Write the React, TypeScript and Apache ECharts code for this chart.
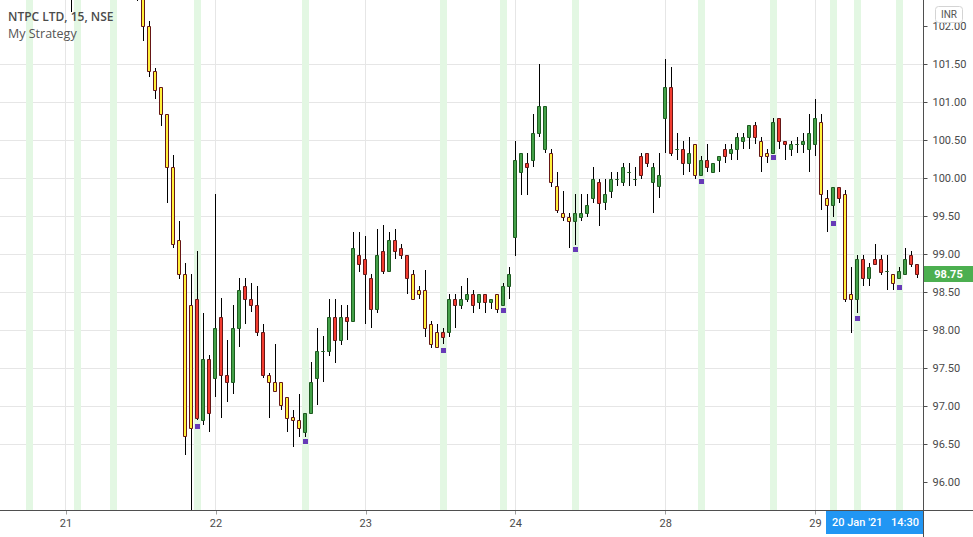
import React, { useEffect, useRef } from "react";
import * as echarts from "echarts";

// ---- time slots (15 min candles, NSE session 09:15 - 15:15) ----
const DAYS = ["20", "21", "22", "23", "24", "28", "29"];
const FIRST_SLOT = "20 12:45";
const LAST_SLOT = "29 13:45";
const DATA_START = "21 09:30";

function sessionTimes(): string[] {
  const out: string[] = [];
  for (let m = 9 * 60 + 15; m <= 15 * 60 + 15; m += 15) {
    const h = Math.floor(m / 60);
    const mm = m % 60;
    out.push(String(h).padStart(2, "0") + ":" + String(mm).padStart(2, "0"));
  }
  return out;
}
const ALL_SLOTS = DAYS.flatMap((d) => sessionTimes().map((t) => d + " " + t));
const CATEGORIES = ALL_SLOTS.slice(ALL_SLOTS.indexOf(FIRST_SLOT), ALL_SLOTS.indexOf(LAST_SLOT) + 1);

// ---- candles, starting at DATA_START ----
const N = null;
const OPEN = [
  102.6, N, N, N, N, N, N, N, N, N,
  N, 102.55, 102.45, 102.01, 101.41, 101.21, 100.85, 100.15, 99.19, 98.74,
  96.72, 98.42, 96.82, 97.62, 97.37, 98.18, 97.42, 97.32, 98.03, 98.58,
  98.42, 98.33, 97.98, 97.42, 97.32, 97.32, 97.12, 96.86, 96.82, 96.66,
  96.91, 97.37, 97.73, 97.73, 98.18, 97.87, 98.18, 98.12, 98.99, 98.94,
  98.69, 98.28, 99.04, 98.78, 99.19, 99.08, 98.99, 98.74, 98.53, 98.53,
  98.08, 97.98, 97.98, 97.98, 98.42, 98.33, 98.42, 98.48, 98.38, 98.48,
  98.38, 98.48, 98.33, 98.58, 99.23, 100.34, 100.15, 100.25, 100.6, 100.96,
  100.34, 99.9, 99.54, 99.49, 99.44, 99.49, 99.54, 99.74, 99.95, 99.69,
  99.84, 100.0, 99.95, 100.09, 100.0, 100.04, 100.34, 100.15, 99.9, 100.8,
  101.21, 100.39, 100.39, 100.2, 100.45, 100.04, 100.25, 100.09, 100.25, 100.39,
  100.34, 100.39, 100.5, 100.55, 100.7, 100.5, 100.34, 100.34, 100.8, 100.5,
  100.39, 100.45, 100.45, 100.39, 100.45, 100.75, 99.74, 99.65, 99.89, 99.79,
  98.48, 98.42, 98.94, 98.69, 98.94, 98.94, 98.78, 98.74, 98.69, 98.74,
  98.99, 98.88,
];
const CLOSE = [
  102.5, N, N, N, N, N, N, N, N, N,
  N, 102.45, 102.01, 101.41, 101.16, 100.85, 100.15, 99.14, 98.74, 96.61,
  98.33, 96.85, 97.62, 96.91, 98.03, 97.42, 97.32, 98.03, 98.53, 98.42,
  98.33, 97.98, 97.42, 97.32, 97.21, 97.02, 96.85, 96.82, 96.72, 96.91,
  97.32, 97.73, 97.73, 98.18, 97.87, 98.18, 98.12, 99.08, 98.88, 98.74,
  98.28, 98.99, 98.78, 99.19, 99.04, 98.99, 98.69, 98.42, 98.48, 98.03,
  97.82, 97.78, 97.92, 98.42, 98.33, 98.42, 98.48, 98.33, 98.48, 98.38,
  98.42, 98.28, 98.58, 98.74, 100.25, 100.09, 100.2, 100.6, 100.96, 100.39,
  99.95, 99.59, 99.49, 99.44, 99.54, 99.54, 99.65, 100.0, 99.68, 99.79,
  100.0, 100.0, 100.15, 100.09, 100.0, 100.3, 100.2, 99.95, 100.04, 101.21,
  100.34, 100.39, 100.2, 100.34, 100.04, 100.25, 100.15, 100.2, 100.3, 100.3,
  100.39, 100.55, 100.55, 100.7, 100.55, 100.3, 100.3, 100.75, 100.5, 100.45,
  100.45, 100.45, 100.5, 100.6, 100.8, 99.79, 99.65, 99.89, 99.74, 98.42,
  98.42, 98.94, 98.69, 98.83, 98.88, 98.77, 98.78, 98.63, 98.78, 98.94,
  98.88, 98.75,
];
const HIGH = [
  102.7, N, N, N, N, N, N, N, N, N,
  N, 102.7, 102.6, 102.07, 101.46, 101.21, 100.85, 100.31, 99.44, 98.89,
  98.74, 99.05, 98.23, 97.68, 99.79, 98.43, 97.88, 98.33, 98.69, 98.69,
  98.63, 98.58, 98.08, 97.44, 97.82, 97.32, 97.12, 96.96, 97.17, 96.92,
  97.58, 98.03, 97.93, 98.42, 98.42, 98.34, 98.34, 99.29, 99.29, 99.24,
  98.74, 99.34, 99.39, 99.29, 99.34, 99.14, 98.99, 98.79, 98.59, 98.79,
  98.13, 98.08, 98.03, 98.48, 98.48, 98.58, 98.69, 98.53, 98.48, 98.48,
  98.42, 98.48, 98.63, 98.84, 100.5, 100.34, 100.34, 100.85, 101.51, 100.96,
  100.39, 100.09, 99.84, 99.54, 99.79, 99.79, 99.79, 100.15, 100.0, 100.0,
  100.09, 100.09, 100.2, 100.2, 100.15, 100.34, 100.34, 100.2, 100.34, 101.57,
  101.47, 100.6, 100.5, 100.55, 100.45, 100.3, 100.45, 100.2, 100.3, 100.45,
  100.45, 100.6, 100.6, 100.7, 100.75, 100.55, 100.39, 100.8, 100.8, 100.5,
  100.5, 100.55, 100.6, 100.85, 101.05, 100.85, 99.85, 99.89, 99.89, 99.85,
  98.84, 98.99, 98.99, 98.89, 99.14, 98.99, 98.99, 98.74, 98.83, 99.08,
  99.05, 98.88,
];
const LOW = [
  102.19, N, N, N, N, N, N, N, N, N,
  N, 102.33, 101.81, 101.34, 101.04, 100.69, 99.68, 99.08, 98.68, 96.36,
  95.63, 96.82, 96.76, 96.66, 97.12, 96.85, 97.06, 97.16, 97.78, 98.08,
  98.24, 97.93, 97.37, 96.85, 97.19, 96.96, 96.66, 96.47, 96.6, 96.6,
  96.91, 97.02, 97.32, 97.67, 97.57, 97.81, 97.87, 98.12, 98.77, 98.08,
  98.03, 98.23, 98.74, 98.78, 98.94, 98.94, 98.48, 98.42, 98.42, 97.92,
  97.77, 97.78, 97.82, 97.92, 98.03, 98.28, 98.38, 98.23, 98.28, 98.23,
  98.28, 98.23, 98.33, 98.42, 98.98, 99.78, 99.78, 100.15, 100.55, 100.34,
  99.89, 99.54, 99.44, 99.08, 99.13, 99.44, 99.49, 99.68, 99.38, 99.59,
  99.74, 99.9, 99.9, 99.9, 99.9, 100.0, 100.15, 99.54, 99.74, 100.34,
  100.3, 100.25, 100.04, 100.09, 100.0, 100.04, 100.09, 100.09, 100.09, 100.2,
  100.25, 100.25, 100.39, 100.39, 100.45, 100.09, 100.2, 100.34, 100.39, 100.25,
  100.3, 100.34, 100.34, 100.09, 100.3, 99.59, 99.29, 99.49, 99.68, 98.38,
  97.97, 98.23, 98.58, 98.58, 98.88, 98.73, 98.53, 98.53, 98.69, 98.74,
  98.83, 98.69,
];
// g = green, r = red, y = yellow (strategy colouring), . = no candle shown
const KIND = (
  "y........." +
  ".yyyyyyyyy" +
  "yrgrgrrggr" +
  "rrryyyyyyg" +
  "ggggrgrgrr" +
  "rgrgrrryyy" +
  "yyrgrggrgr" +
  "gyggggrggg" +
  "ryyyyggggr".slice(1) + "g" +
  "gggggrrggg" +
  "rgrgygrggr" +
  "ggggryygrr" +
  "gggggyygry" +
  "ygrgrrgygg" +
  "rr"
).split("");

// strategy signal columns and markers
const BAND_SLOTS = [
  "20 14:00", "21 09:45", "21 11:15", "21 14:45", "22 13:00", "23 12:30", "23 15:00",
  "24 11:45", "28 10:45", "28 13:45", "29 10:00", "29 11:00", "29 12:45",
];
const MARK_SLOTS = [
  "21 14:45", "22 13:00", "23 12:30", "23 15:00", "24 11:45",
  "28 10:45", "28 13:45", "29 10:00", "29 11:00", "29 12:45",
];
const MARK_PRICES = [96.75, 96.54, 97.75, 98.27, 99.07, 99.97, 100.28, 99.42, 98.16, 98.57];

const Y_TICKS = [96, 96.5, 97, 97.5, 98, 98.5, 99, 99.5, 100, 100.5, 101, 101.5, 102];
const Y_MIN = 95.5;
const Y_MAX = 102.3487; // price at the top edge of the pane

const COLORS: Record<string, [string, string]> = {
  g: ["#43a047", "#1d5a20"],
  r: ["#f23c2f", "#651616"],
  y: ["#fff03a", "#651616"],
};
const BAND_COLOR = "#e3f7e3";
const GRID_COLOR = "#e6e6e6";
const AXIS_COLOR = "#4f4f4f";
const TEXT_COLOR = "#4a4a4a";
const X_OFFSET = -10;

const dayStart = (_i: number, v: string) => v.endsWith("09:15");

export default function App() {
  const ref = useRef<HTMLDivElement>(null);
  useEffect(() => {
    if (!ref.current) return;
    const chart = echarts.init(ref.current, null, { renderer: "svg" });
    const k0 = CATEGORIES.indexOf(DATA_START);
    const candleData: number[][] = [];
    OPEN.forEach((o, j) => {
      if (o == null) return;
      candleData.push([k0 + j, o, CLOSE[j] as number, LOW[j] as number, HIGH[j] as number, j]);
    });
    const lastIdx = k0 + OPEN.length - 1;
    const lastClose = CLOSE[CLOSE.length - 1] as number;
    const dayStarts = CATEGORIES.map((c, i) => (c.endsWith("09:15") ? i : -1)).filter((i) => i >= 0);

    const bottomOf = (cs: any) => cs.y + cs.height + X_OFFSET;

    chart.setOption({
      animation: false,
      grid: { left: 0, right: 49.5, top: 0, bottom: 16.5, containLabel: false },
      xAxis: {
        type: "category",
        data: CATEGORIES,
        boundaryGap: false,
        offset: X_OFFSET,
        axisLine: { show: false },
        axisTick: { show: true, interval: dayStart, length: 4, lineStyle: { color: "#a0a0a0" } },
        axisLabel: {
          interval: dayStart,
          formatter: (v: string) => v.split(" ")[0],
          color: TEXT_COLOR,
          fontFamily: "Roboto",
          fontSize: 11,
          margin: 7,
        },
        splitLine: { show: false },
      },
      yAxis: {
        type: "value",
        position: "right",
        min: Y_MIN,
        max: Y_MAX,
        interval: 0.5,
        axisLine: { show: false },
        axisTick: { show: true, length: 4, lineStyle: { color: AXIS_COLOR }, customValues: Y_TICKS },
        axisLabel: {
          customValues: Y_TICKS,
          margin: 9,
          color: TEXT_COLOR,
          fontFamily: "Roboto",
          fontSize: 11,
          formatter: (v: number) => v.toFixed(2),
        },
        splitLine: { show: true, showMinLine: false, showMaxLine: false, lineStyle: { color: GRID_COLOR } },
      },
      series: [
        {
          type: "custom",
          name: "bands",
          z: 1,
          silent: true,
          data: BAND_SLOTS.map((s) => [CATEGORIES.indexOf(s), 100]),
          renderItem: (params: any, api: any) => {
            const p = api.coord([api.value(0), api.value(1)]);
            const cs = params.coordSys;
            const x = Math.floor(p[0]);
            return {
              type: "rect",
              shape: { x: x - 3, y: cs.y, width: 7, height: bottomOf(cs) - cs.y },
              style: { fill: BAND_COLOR },
            };
          },
        },
        {
          type: "custom",
          name: "daylines",
          z: 1,
          silent: true,
          data: dayStarts.map((i) => [i, 100]),
          renderItem: (params: any, api: any) => {
            const p = api.coord([api.value(0), api.value(1)]);
            const cs = params.coordSys;
            const x = Math.floor(p[0]) + 0.5;
            return {
              type: "line",
              shape: { x1: x, y1: cs.y, x2: x, y2: bottomOf(cs) },
              style: { stroke: GRID_COLOR, lineWidth: 1 },
            };
          },
        },
        {
          type: "custom",
          name: "candles",
          z: 3,
          data: candleData,
          encode: { x: 0, y: [1, 2, 3, 4] },
          renderItem: (_params: any, api: any) => {
            const x = api.value(0);
            const pO = api.coord([x, api.value(1)]);
            const pC = api.coord([x, api.value(2)]);
            const pL = api.coord([x, api.value(3)]);
            const pH = api.coord([x, api.value(4)]);
            const kind = KIND[api.value(5)] || "g";
            const [fill, stroke] = COLORS[kind];
            const cx = Math.floor(pO[0]);
            const top = Math.round(Math.min(pO[1], pC[1])) + 0.5;
            const bot = Math.round(Math.max(pO[1], pC[1])) + 0.5;
            return {
              type: "group",
              children: [
                {
                  type: "line",
                  shape: { x1: cx + 0.5, y1: Math.round(pH[1]), x2: cx + 0.5, y2: Math.round(pL[1]) },
                  style: { stroke: "#000", lineWidth: 1 },
                },
                {
                  type: "rect",
                  shape: { x: cx - 1.5, y: top, width: 3, height: bot - top },
                  style: { fill, stroke, lineWidth: 1 },
                },
              ],
            };
          },
        },
        {
          type: "custom",
          name: "signals",
          z: 4,
          data: MARK_SLOTS.map((s, i) => [CATEGORIES.indexOf(s), MARK_PRICES[i]]),
          renderItem: (_params: any, api: any) => {
            const p = api.coord([api.value(0), api.value(1)]);
            const x = Math.floor(p[0]);
            const y = Math.round(p[1]);
            return {
              type: "rect",
              shape: { x: x - 2, y: y - 2, width: 5, height: 5 },
              style: { fill: "#673ab7" },
            };
          },
        },
        {
          type: "custom",
          name: "last",
          z: 5,
          clip: false,
          data: [[lastIdx, lastClose]],
          renderItem: (params: any, api: any) => {
            const p = api.coord([api.value(0), api.value(1)]);
            const cs = params.coordSys;
            const x0 = cs.x + cs.width + 0.5;
            const y = Math.round(p[1]);
            return {
              type: "group",
              children: [
                {
                  type: "rect",
                  shape: { x: x0, y: y - 8, width: 973 - x0, height: 16 },
                  style: { fill: "#4caf50" },
                },
                {
                  type: "text",
                  style: {
                    text: api.value(1).toFixed(2),
                    x: x0 + (973 - x0) / 2,
                    y: y,
                    fill: "#ffffff",
                    fontFamily: "Roboto",
                    fontWeight: "bold",
                    fontSize: 11,
                    align: "center",
                    verticalAlign: "middle",
                    textAlign: "center",
                    textVerticalAlign: "middle",
                  },
                },
              ],
            };
          },
        },
      ],
      graphic: [
        { type: "line", z: 50, shape: { x1: 0, y1: 510.5, x2: 973, y2: 510.5 }, style: { stroke: AXIS_COLOR, lineWidth: 1 } },
        { type: "line", z: 50, shape: { x1: 923.5, y1: 0, x2: 923.5, y2: 537 }, style: { stroke: AXIS_COLOR, lineWidth: 1 } },
        {
          type: "text",
          z: 50,
          style: {
            text: "NTPC LTD, 15, NSE",
            x: 8,
            y: 16,
            fill: "#4b4b4b",
            fontFamily: "Open Sans",
            fontWeight: 600,
            fontSize: 12,
            verticalAlign: "middle",
            textVerticalAlign: "middle",
          },
        },
        {
          type: "text",
          z: 50,
          style: {
            text: "My Strategy",
            x: 8,
            y: 33,
            fill: "#555555",
            fontFamily: "Open Sans",
            fontSize: 12.5,
            verticalAlign: "middle",
            textVerticalAlign: "middle",
          },
        },
        {
          type: "rect",
          z: 60,
          shape: { x: 935.5, y: 6.5, width: 27, height: 16, r: 3 },
          style: { fill: "#ffffff", stroke: "#d4d4d4", lineWidth: 1 },
        },
        {
          type: "text",
          z: 61,
          style: {
            text: "INR",
            x: 949,
            y: 14.5,
            fill: "#555555",
            fontFamily: "Roboto",
            fontSize: 10,
            align: "center",
            verticalAlign: "middle",
            textAlign: "center",
            textVerticalAlign: "middle",
          },
        },
        {
          type: "rect",
          z: 60,
          shape: { x: 826, y: 511, width: 97, height: 23 },
          style: { fill: "#2196f3" },
        },
        {
          type: "text",
          z: 61,
          style: {
            text: "20 Jan '21",
            x: 832,
            y: 522.5,
            fill: "#ffffff",
            fontFamily: "Roboto",
            fontWeight: 500,
            fontSize: 11,
            verticalAlign: "middle",
            textVerticalAlign: "middle",
          },
        },
        {
          type: "text",
          z: 61,
          style: {
            text: "14:30",
            x: 891,
            y: 522.5,
            fill: "#ffffff",
            fontFamily: "Roboto",
            fontWeight: 500,
            fontSize: 11,
            verticalAlign: "middle",
            textVerticalAlign: "middle",
          },
        },
      ],
    });
    return () => chart.dispose();
  }, []);
  return (
    <div
      ref={ref}
      style={{ position: "fixed", left: 0, top: 0, width: 973, height: 537, background: "#ffffff" }}
    />
  );
}
